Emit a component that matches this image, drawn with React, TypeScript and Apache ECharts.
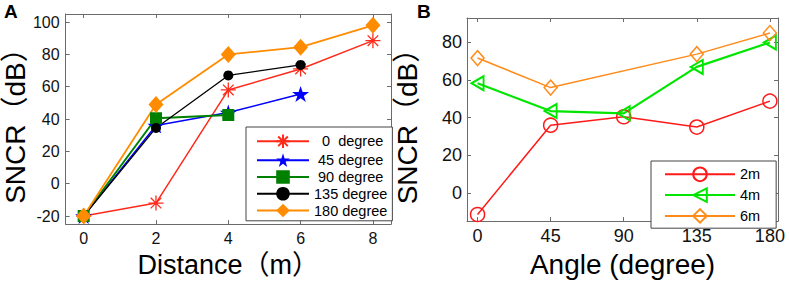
import React, { useEffect, useRef } from "react";
import * as echarts from "echarts";

// ---- Panel A data ----
const distances = [0, 2, 4, 6, 8];
const deg0 = [-20, -12, 58, 71, 88.5];
const deg45 = [-20, 36, 44, 55.5];
const deg90 = [-20, 40.5, 42.5];
const deg135 = [-20, 34.5, 67, 73.5];
const deg180 = [-20, 49, 80, 84.5, 98];
const ticksA_x = [0, 2, 4, 6, 8];
const ticksA_y = [-20, 0, 20, 40, 60, 80, 100];

// ---- Panel B data ----
const angles = [0, 45, 90, 135, 180];
const m2 = [-11.5, 36, 40.5, 35, 48.8];
const m4 = [58.3, 43.5, 42.3, 67, 80];
const m6: (number | null)[] = [71.7, 56, null, 73.8, 85];
const ticksB_x = [0, 45, 90, 135, 180];
const ticksB_y = [0, 20, 40, 60, 80];

const FONT = '"Liberation Sans", Arial, "Noto Sans CJK SC", sans-serif';
const AX = "#6b6b6b";

const ASTERISK =
  "path://M0,-1L0,1M-1,0L1,0M-0.707,-0.707L0.707,0.707M-0.707,0.707L0.707,-0.707";
const STAR =
  "path://M0,-1L0.2245,-0.309L0.951,-0.309L0.3633,0.118L0.5878,0.809L0,0.382L-0.5878,0.809L-0.3633,0.118L-0.951,-0.309L-0.2245,-0.309Z";
const TRI_LEFT = "path://M0,5L10,0L10,10Z";

function pairs(xs: number[], ys: (number | null)[]) {
  return ys.map((y, i) => [xs[i], y]);
}

function axis(
  gridIndex: number,
  position: string,
  min: number,
  max: number,
  ticks: number[],
  showLabel: boolean,
  fontSize: number,
  margin: number,
  extra: any = {}
) {
  return {
    type: "value",
    gridIndex,
    position,
    min,
    max,
    splitLine: { show: false },
    axisLine: { show: true, onZero: false, lineStyle: { color: AX, width: 1 } },
    axisTick: {
      show: true,
      inside: true,
      length: 4,
      customValues: ticks,
      lineStyle: { color: AX },
    },
    axisLabel: {
      show: showLabel,
      customValues: ticks,
      fontSize,
      fontFamily: FONT,
      color: "#111",
      margin,
    },
    ...extra,
  };
}

export default function App() {
  const ref = useRef<HTMLDivElement>(null);
  useEffect(() => {
    const chart = echarts.init(ref.current!, null, { renderer: "svg" });
    const nameA = ["  0  degree", " 45 degree", " 90 degree", "135 degree", "180 degree"];
    const nameB = ["2m", "4m", "6m"];
    const option: any = {
      animation: false,
      backgroundColor: "#fff",
      grid: [
        { left: 62, top: 14, width: 329, height: 217 },
        { left: 467, top: 18, width: 311, height: 208 },
      ],
      xAxis: [
        axis(0, "bottom", -0.5, 8.5, ticksA_x, true, 16, 6, {
          name: "Distance（m）",
          nameLocation: "middle",
          nameGap: 21,
          nameTextStyle: { fontSize: 27, fontFamily: FONT, color: "#000", verticalAlign: "top" },
        }),
        axis(0, "top", -0.5, 8.5, ticksA_x, false, 16, 6),
        axis(1, "bottom", -6.5, 185, ticksB_x, true, 18, 6, {
          name: "Angle (degree)",
          nameLocation: "middle",
          nameGap: 27,
          nameTextStyle: { fontSize: 28, fontFamily: FONT, color: "#000", verticalAlign: "top" },
        }),
        axis(1, "top", -6.5, 185, ticksB_x, false, 18, 6),
      ],
      yAxis: [
        axis(0, "left", -25, 105, ticksA_y, true, 16, 6, {
          name: "SNCR（dB）",
          nameLocation: "middle",
          nameGap: 24,
          nameTextStyle: { fontSize: 28, fontFamily: FONT, color: "#000" },
        }),
        axis(0, "right", -25, 105, ticksA_y, false, 16, 6),
        axis(1, "left", -15, 93, ticksB_y, true, 18, 5, {
          name: "SNCR（dB）",
          nameLocation: "middle",
          nameGap: 46,
          nameTextStyle: { fontSize: 28, fontFamily: FONT, color: "#000" },
        }),
        axis(1, "right", -15, 93, ticksB_y, false, 18, 5),
      ],
      legend: [
        {
          orient: "vertical",
          left: 246,
          top: 127,
          itemWidth: 52,
          itemHeight: 17,
          itemGap: 2.3,
          padding: [5, 5, 3, 10],
          borderColor: "#444",
          borderWidth: 1,
          backgroundColor: "#fff",
          textStyle: { fontSize: 14.5, fontFamily: FONT, color: "#000" },
          data: nameA,
        },
        {
          orient: "vertical",
          left: 651,
          top: 161,
          itemWidth: 70,
          itemHeight: 17,
          itemGap: 2.2,
          padding: [4, 16, 3, 13],
          borderColor: "#444",
          borderWidth: 1,
          backgroundColor: "#fff",
          textStyle: { fontSize: 14.5, fontFamily: FONT, color: "#000" },
          data: nameB,
        },
      ],
      graphic: [
        { type: "text", left: 4, top: 2, style: { text: "A", font: `bold 19px ${FONT}`, fill: "#000" } },
        { type: "text", left: 417, top: 2, style: { text: "B", font: `bold 19px ${FONT}`, fill: "#000" } },
      ],
      series: [
        {
          name: nameA[0], type: "line", xAxisIndex: 0, yAxisIndex: 0,
          data: pairs(distances, deg0), symbol: ASTERISK, symbolSize: 15,
          lineStyle: { color: "#ff2a1a", width: 1.5 },
          itemStyle: { color: "none", borderColor: "#ff2a1a", borderWidth: 1.3 },
        },
        {
          name: nameA[1], type: "line", xAxisIndex: 0, yAxisIndex: 0,
          data: pairs(distances, deg45), symbol: STAR, symbolSize: [17, 16],
          lineStyle: { color: "#0000ff", width: 1.5 },
          itemStyle: { color: "#0000ff" },
        },
        {
          name: nameA[2], type: "line", xAxisIndex: 0, yAxisIndex: 0,
          data: pairs(distances, deg90), symbol: "rect", symbolSize: 12,
          lineStyle: { color: "#008000", width: 2 },
          itemStyle: { color: "#008000" },
        },
        {
          name: nameA[3], type: "line", xAxisIndex: 0, yAxisIndex: 0,
          data: pairs(distances, deg135), symbol: "circle", symbolSize: 10,
          lineStyle: { color: "#000", width: 1.3 },
          itemStyle: { color: "#000" },
        },
        {
          name: nameA[4], type: "line", xAxisIndex: 0, yAxisIndex: 0,
          data: pairs(distances, deg180), symbol: "diamond", symbolSize: [15, 17],
          lineStyle: { color: "#ff8c00", width: 1.8 },
          itemStyle: { color: "#ff8c00" },
        },
        {
          name: nameB[0], type: "line", xAxisIndex: 2, yAxisIndex: 2,
          data: pairs(angles, m2), symbol: "circle", symbolSize: 14,
          lineStyle: { color: "#ff1a1a", width: 1.5 },
          itemStyle: { color: "none", borderColor: "#ff1a1a", borderWidth: 1.5 },
        },
        {
          name: nameB[1], type: "line", xAxisIndex: 2, yAxisIndex: 2,
          data: pairs(angles, m4), symbol: TRI_LEFT, symbolSize: [12, 14],
          lineStyle: { color: "#00e600", width: 2.2 },
          itemStyle: { color: "none", borderColor: "#00e600", borderWidth: 2 },
        },
        {
          name: nameB[2], type: "line", xAxisIndex: 2, yAxisIndex: 2,
          data: pairs(angles, m6), connectNulls: true, symbol: "diamond", symbolSize: [13, 15],
          lineStyle: { color: "#ff8c1a", width: 1.5 },
          itemStyle: { color: "none", borderColor: "#ff8c1a", borderWidth: 1.5 },
        },
      ],
    };
    chart.setOption(option);
    return () => chart.dispose();
  }, []);
  return (
    <div
      ref={ref}
      style={{ position: "fixed", left: 0, top: 0, width: 789, height: 283, background: "#fff" }}
    />
  );
}
